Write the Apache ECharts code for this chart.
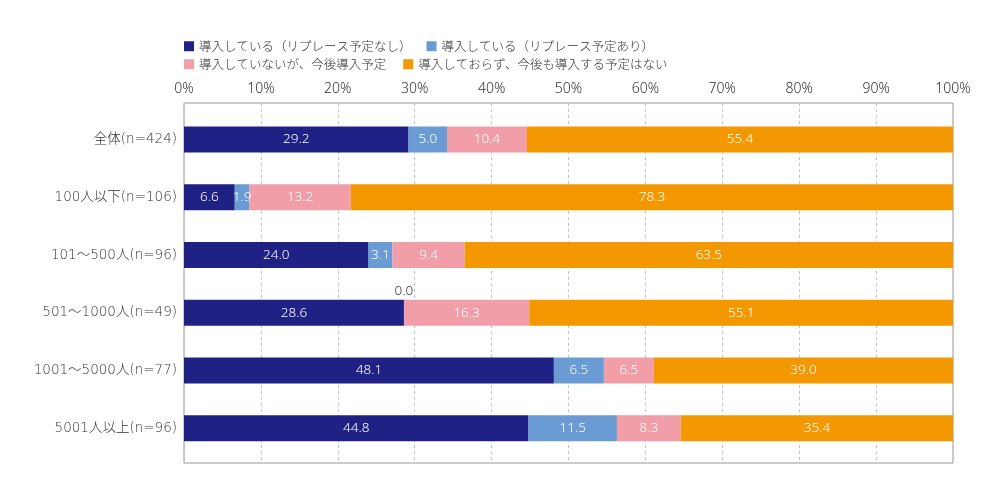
<!DOCTYPE html>
<html><head><meta charset="utf-8">
<script src="https://cdn.jsdelivr.net/npm/echarts@6/dist/echarts.min.js"></script>
<style>html,body{margin:0;padding:0;background:#fff}#c{width:1000px;height:500px}</style>
</head><body><div id="c"></div>
<script>
const categories = ['全体(n=424)','100人以下(n=106)','101～500人(n=96)','501～1000人(n=49)','1001～5000人(n=77)','5001人以上(n=96)'];
const seriesNames = ['導入している（リプレース予定なし）','導入している（リプレース予定あり）','導入していないが、今後導入予定','導入しておらず、今後も導入する予定はない'];
const replaceNo = [29.2, 6.6, 24.0, 28.6, 48.1, 44.8];
const replaceYes = [5.0, 1.9, 3.1, 0.0, 6.5, 11.5];
const planned = [10.4, 13.2, 9.4, 16.3, 6.5, 8.3];
const noPlan = [55.4, 78.3, 63.5, 55.1, 39.0, 35.4];
const colors = ['#1f2185','#6a9bd4','#f19ea8','#f39800'];
const font = '"Noto Sans CJK JP", "Noto Sans", sans-serif';
const numFont = '"Noto Sans", "Noto Sans CJK JP", sans-serif';
const catFont = '"DejaVu Sans", "Noto Sans CJK JP", sans-serif';

const chart = echarts.init(document.getElementById('c'));
const values = [replaceNo, replaceYes, planned, noPlan];
const series = values.map((arr, i) => ({
  name: seriesNames[i],
  type: 'bar',
  stack: 'total',
  xAxisIndex: 1,
  yAxisIndex: 1,
  barWidth: 26,
  itemStyle: {color: colors[i]},
  label: {
    show: true, position: 'inside', color: '#fff', fontSize: 13.5, fontFamily: numFont, fontWeight: 300,
    formatter: p => Number(p.value).toFixed(1)
  },
  data: arr.map(v => v === 0 ? {value: v, label: {position: 'top', color: '#333', distance: 2}} : v)
}));

chart.setOption({
  backgroundColor: '#fff',
  textStyle: {fontFamily: font},
  color: colors,
  legend: [
    {data: seriesNames.slice(0,2), left: 179, top: 35, itemWidth: 10, itemHeight: 10, itemGap: 15,
     textStyle: {fontSize: 12.5, color: '#333', fontFamily: font, fontWeight: 300}, icon: 'rect', selectedMode: false},
    {data: seriesNames.slice(2,4), left: 179, top: 53, itemWidth: 10, itemHeight: 10, itemGap: 17,
     textStyle: {fontSize: 12.5, color: '#333', fontFamily: font, fontWeight: 300}, icon: 'rect', selectedMode: false}
  ],
  grid: [
    {left: 184, right: 47, top: 103, bottom: 37, show: true, borderColor: '#999', borderWidth: 1, backgroundColor: 'transparent'},
    {left: 184, right: 47, top: 110.6, bottom: 42.8}
  ],
  xAxis: [
    {gridIndex: 0, type: 'value', position: 'top', min: 0, max: 100, interval: 10,
     axisLine: {show: false}, axisTick: {show: false},
     axisLabel: {formatter: '{value}%', color: '#333', fontSize: 14, margin: 7, fontFamily: numFont, fontWeight: 300},
     splitLine: {show: true, lineStyle: {type: [3, 3], color: '#c4c4c4'}}},
    {gridIndex: 1, type: 'value', min: 0, max: 100, show: false}
  ],
  yAxis: [
    {gridIndex: 0, type: 'value', show: false, min: 0, max: 1},
    {gridIndex: 1, type: 'category', inverse: true, data: categories,
     axisLine: {show: false}, axisTick: {show: false},
     axisLabel: {color: '#333', fontSize: 13.5, margin: 7, fontFamily: catFont, fontWeight: 300}}
  ],
  series: series
});
</script></body></html>
